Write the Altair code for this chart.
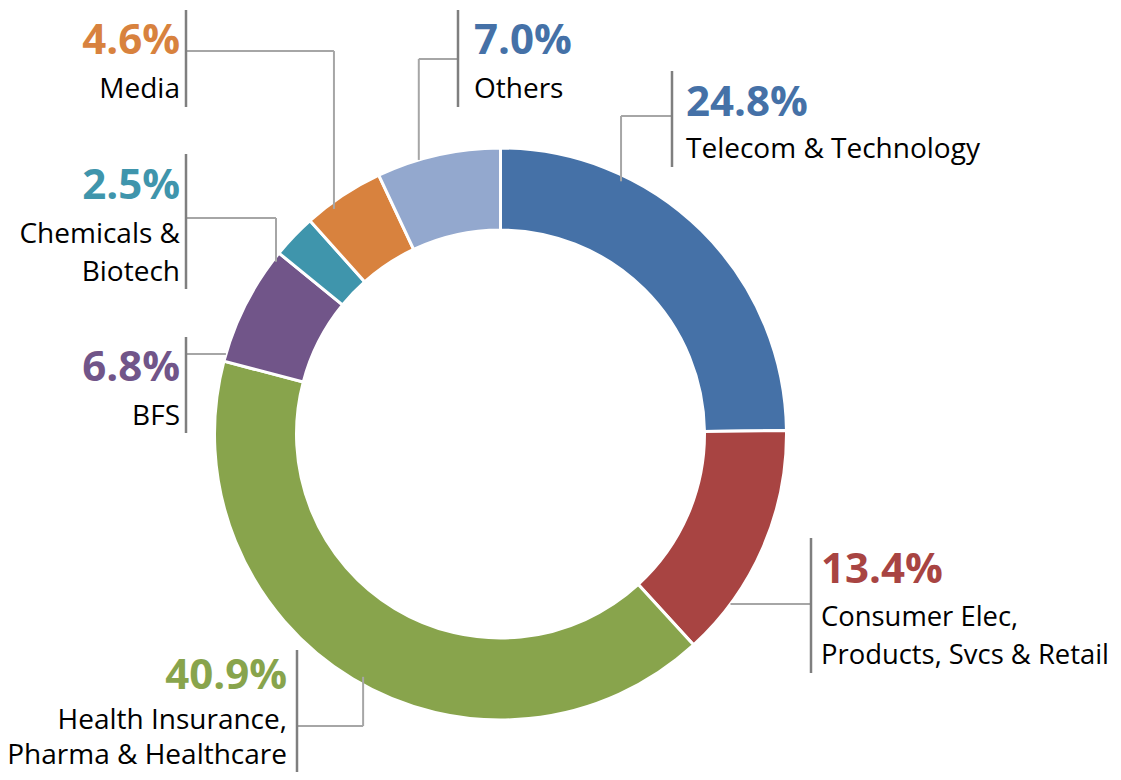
import math
import altair as alt
import pandas as pd

# ---- data ----
categories = ["Telecom & Technology", "Consumer Elec, Products, Svcs & Retail",
              "Health Insurance, Pharma & Healthcare", "BFS", "Chemicals & Biotech",
              "Media", "Others"]
values = [24.8, 13.4, 40.9, 6.8, 2.5, 4.6, 7.0]
name_lines = [["Telecom & Technology"], ["Consumer Elec,", "Products, Svcs & Retail"],
              ["Health Insurance,", "Pharma & Healthcare"], ["BFS"],
              ["Chemicals &", "Biotech"], ["Media"], ["Others"]]
slice_colors = ["#4571A7", "#A84442", "#88A44C", "#715589", "#3F95AC", "#D8823E", "#93A8CE"]
pct_colors = ["#4571A7", "#A84442", "#88A44C", "#715589", "#3F95AC", "#D8823E", "#4571A7"]

# ---- layout (page pixel coordinates) ----
CX, CY = 500.5, 434.0
R_OUT, R_IN = 286, 204
W, H = 1105, 764
FONT = "Open Sans"

# per label: bar x, bar y1, bar y2, text x, align, pct baseline, first name baseline,
# name line height, name font size, leader y at bar, leader kind, attach angle, attach radius
layout = [
    dict(bx=672, y1=71, y2=167, tx=686, align="left", py=116, ny=158, lh=38, fs=28, ly=116, kind="elbow", ang=25.5, r=280),
    dict(bx=811, y1=538, y2=673, tx=821, align="left", py=583, ny=626, lh=38, fs=27.4, ly=604, kind="straight", ang=None, r=286),
    dict(bx=297, y1=650, y2=780, tx=287, align="right", py=689, ny=729, lh=35, fs=28, ly=726, kind="elbow", ang=209.5, r=279),
    dict(bx=186, y1=337, y2=433, tx=180, align="right", py=381, ny=425, lh=38, fs=28, ly=354, kind="straight", ang=None, r=286),
    dict(bx=186, y1=154, y2=289, tx=180, align="right", py=199, ny=243, lh=38, fs=28, ly=218, kind="elbow", ang=307.5, r=283),
    dict(bx=186, y1=10, y2=107, tx=180, align="right", py=54, ny=98, lh=38, fs=28, ly=51, kind="elbow", ang=323.5, r=280),
    dict(bx=458, y1=10, y2=107, tx=474, align="left", py=54, ny=98, lh=38, fs=28, ly=59, kind="elbow", ang=343.4, r=286),
]

slices = pd.DataFrame({"category": categories, "value": values, "idx": range(len(values))})

seg_rows, bar_rows, pct_rows, name_rows = [], [], [], []
for i, (cat, v, L) in enumerate(zip(categories, values, layout)):
    if L["kind"] == "elbow":
        a = math.radians(L["ang"])
        ex = CX + L["r"] * math.sin(a)
        ey = CY - L["r"] * math.cos(a)
        seg_rows.append(dict(x=L["bx"], y=L["ly"], x2=ex, y2=L["ly"]))
        seg_rows.append(dict(x=ex, y=L["ly"], x2=ex, y2=ey))
    else:
        dy = L["ly"] - CY
        dx = math.sqrt(max(L["r"] ** 2 - dy ** 2, 0))
        ex = CX + dx if L["bx"] > CX else CX - dx
        seg_rows.append(dict(x=L["bx"], y=L["ly"], x2=ex, y2=L["ly"]))
    bar_rows.append(dict(x=L["bx"], y=L["y1"], y2=L["y2"]))
    pct_rows.append(dict(x=L["tx"], y=L["py"], text=f"{v:.1f}%", col=pct_colors[i], align=L["align"]))
    for j, line in enumerate(name_lines[i]):
        name_rows.append(dict(x=L["tx"], y=L["ny"] + j * L["lh"], text=line,
                              align=L["align"], fs=L["fs"]))

segs = pd.DataFrame(seg_rows)
bars = pd.DataFrame(bar_rows)
pcts = pd.DataFrame(pct_rows)
names = pd.DataFrame(name_rows)

xs = alt.Scale(domain=[8, 8 + W], range=[0, W], nice=False, zero=False)
ys = alt.Scale(domain=[8, 8 + H], range=[0, H], nice=False, zero=False)

donut = alt.Chart(slices).mark_arc(
    innerRadius=R_IN, outerRadius=R_OUT, stroke="white", strokeWidth=3
).encode(
    theta=alt.Theta("value:Q", stack=True),
    order=alt.Order("idx:Q"),
    color=alt.Color("category:N", scale=alt.Scale(domain=categories, range=slice_colors), legend=None),
    x=alt.value(CX - 8),
    y=alt.value(CY - 8),
)

leaders = alt.Chart(segs).mark_rule(color="#A6A6A6", strokeWidth=2).encode(
    x=alt.X("x:Q", scale=xs, axis=None),
    y=alt.Y("y:Q", scale=ys, axis=None),
    x2="x2:Q",
    y2="y2:Q",
)

vbars = alt.Chart(bars).mark_rule(color="#7F7F7F", strokeWidth=2.5).encode(
    x=alt.X("x:Q", scale=xs, axis=None),
    y=alt.Y("y:Q", scale=ys, axis=None),
    y2="y2:Q",
)


def pct_layer(align):
    sub = pcts[pcts["align"] == align]
    return alt.Chart(sub).mark_text(
        align=align, baseline="alphabetic", font=FONT, fontSize=42, fontWeight="bold",
    ).encode(
        x=alt.X("x:Q", scale=xs, axis=None),
        y=alt.Y("y:Q", scale=ys, axis=None),
        text="text:N",
        color=alt.Color("col:N", scale=None, legend=None),
    )


def name_layer(align):
    sub = names[names["align"] == align]
    return alt.Chart(sub).mark_text(
        align=align, baseline="alphabetic", font=FONT, fontWeight="normal", color="#000000",
    ).encode(
        x=alt.X("x:Q", scale=xs, axis=None),
        y=alt.Y("y:Q", scale=ys, axis=None),
        text="text:N",
        size=alt.Size("fs:Q", scale=None, legend=None),
    )


layers = [donut, leaders, vbars]
for al in ["left", "right"]:
    layers.append(pct_layer(al))
    layers.append(name_layer(al))

chart = alt.layer(*layers).properties(
    width=W, height=H, autosize="none", padding=0
).resolve_scale(color="independent", size="independent").configure_view(stroke=None)

chart.save("out.html", embed_options={"renderer": "svg", "actions": False})
